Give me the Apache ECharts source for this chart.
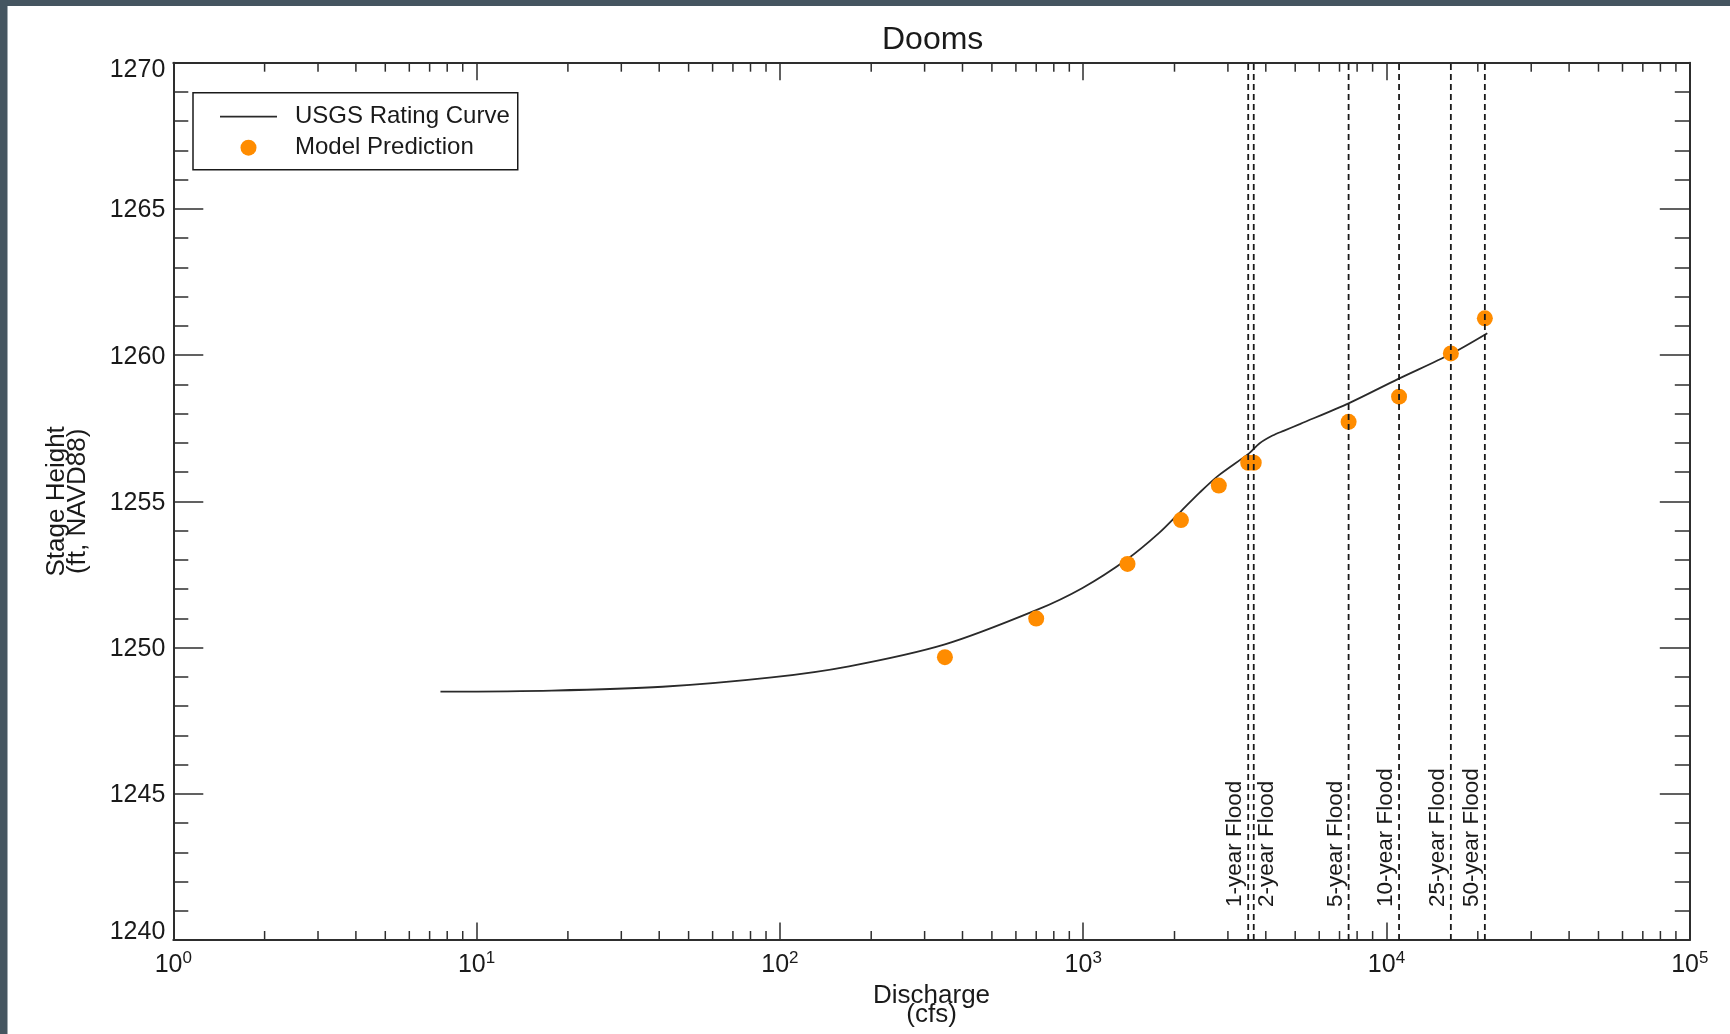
<!DOCTYPE html>
<html>
<head>
<meta charset="utf-8">
<title>Dooms</title>
<script src="https://cdn.jsdelivr.net/npm/echarts@6/dist/echarts.min.js"></script>
<style>
  html, body { margin: 0; padding: 0; background: #ffffff; }
  #chart { width: 1730px; height: 1034px; }
</style>
</head>
<body>
<div id="chart"></div>
<script>
// USGS rating curve: discharge (cfs) and stage (ft, NAVD88)
const ratingQ = [7.6, 17.7, 41, 94, 169, 350, 700, 995, 1400, 1780, 2100, 2415, 2790, 3530, 3810, 4210, 4600, 5200, 7530, 10900, 16300, 21500];
const ratingStage = [1248.49, 1248.53, 1248.66, 1248.98, 1249.36, 1250.11, 1251.28, 1252.04, 1253.03, 1253.92, 1254.66, 1255.29, 1255.88, 1256.65, 1256.98, 1257.25, 1257.42, 1257.65, 1258.36, 1259.18, 1260.04, 1260.75];

// Model predictions
const predQ = [350, 700, 1400, 2100, 2800, 3500, 3650, 7500, 11000, 16300, 21100];
const predStage = [1249.67, 1250.99, 1252.86, 1254.36, 1255.54, 1256.32, 1256.32, 1257.72, 1258.58, 1260.06, 1261.26];

// Flood recurrence discharges
const floodQ = [3500, 3650, 7500, 11000, 16300, 21100];
const floodNames = ['1-year Flood', '2-year Flood', '5-year Flood', '10-year Flood', '25-year Flood', '50-year Flood'];

// Axis ranges
const X_MIN = 1, X_MAX = 100000;
const Y_MIN = 1240, Y_MAX = 1270, Y_STEP = 5;

const FONT = '"Liberation Sans", Arial, sans-serif';
const INK = '#1a1a1a';
const FRAME = '#2e2e2e';
const CURVE = '#2a2a2a';

// which side of its dashed line each flood label sits on (-1 left, +1 right)
const floodLabelSide = [-1, 1, -1, -1, -1, -1];

// minor tick values of the log axis: 2..9 within every decade
const logMinorTicks = [];
for (let d = X_MIN; d < X_MAX; d *= 10) {
  for (let m = 2; m <= 9; m++) logMinorTicks.push([d * m, Y_MIN]);
}

const chart = echarts.init(document.getElementById('chart'), null, { renderer: 'canvas' });

const frameLine = { show: true, onZero: false, lineStyle: { color: FRAME, width: 2 } };

function logLabel(v) {
  const e = Math.round(Math.log10(v));
  return '{b|10}{s|' + e + '}';
}

function stageLabel(v) {
  if (v === Y_MAX) return '{hi|' + v + '}';
  if (v === Y_MIN) return '{lo|' + v + '}';
  return '{n|' + v + '}';
}

const option = {
  animation: false,
  backgroundColor: '#ffffff',
  graphic: [
    { type: 'rect', left: 0, top: 0, shape: { width: 1730, height: 6 }, style: { fill: '#455560' }, z: 100 },
    { type: 'rect', left: 0, top: 0, shape: { width: 7.5, height: 1034 }, style: { fill: '#455560' }, z: 100 }
  ],
  title: {
    text: 'Dooms',
    left: 877,
    top: 19.5,
    textStyle: { fontFamily: FONT, fontSize: 32, fontWeight: 'normal', color: INK }
  },
  grid: { left: 173.3, right: 40.2, top: 62.7, bottom: 94, containLabel: false },
  legend: {
    orient: 'vertical',
    left: 193,
    top: 92.7,
    padding: [12, 8, 10, 27],
    itemWidth: 57,
    itemHeight: 16,
    itemGap: 7,
    symbolKeepAspect: true,
    borderColor: INK,
    borderWidth: 1.5,
    borderRadius: 0,
    backgroundColor: '#ffffff',
    data: [
      { name: 'USGS Rating Curve', icon: 'path://M0,0h57v1.8h-57z' },
      { name: 'Model Prediction', icon: 'circle' }
    ],
    textStyle: { fontFamily: FONT, fontSize: 24, color: INK, padding: [0, 0, 0, 13] }
  },
  xAxis: [
    {
      type: 'log', logBase: 10, min: X_MIN, max: X_MAX, position: 'bottom',
      name: 'Discharge\n(cfs)', nameLocation: 'middle', nameGap: 42,
      nameTextStyle: { fontFamily: FONT, fontSize: 26, color: INK, lineHeight: 19 },
      axisLine: frameLine,
      axisTick: { show: true, inside: true, length: 17.5, lineStyle: { color: FRAME, width: 1.5 } },
      splitLine: { show: false },
      axisLabel: {
        margin: 10,
        formatter: logLabel,
        rich: {
          b: { fontFamily: FONT, fontSize: 25, color: INK, lineHeight: 30 },
          s: { fontFamily: FONT, fontSize: 17, color: INK, lineHeight: 17, verticalAlign: 'top' }
        }
      }
    },
    {
      type: 'log', logBase: 10, min: X_MIN, max: X_MAX, position: 'top',
      axisLine: frameLine,
      axisTick: { show: true, inside: true, length: 17.5, lineStyle: { color: FRAME, width: 1.5 } },
      axisLabel: { show: false },
      splitLine: { show: false }
    }
  ],
  yAxis: [
    {
      type: 'value', min: Y_MIN, max: Y_MAX, interval: Y_STEP, position: 'left',
      name: 'Stage Height\n(ft, NAVD88)', nameLocation: 'middle', nameGap: 85, nameRotate: 90,
      nameTextStyle: { fontFamily: FONT, fontSize: 26, color: INK, lineHeight: 21 },
      axisLine: frameLine,
      axisTick: { show: true, inside: true, length: 30, lineStyle: { color: FRAME, width: 1.5 } },
      minorTick: { show: true, splitNumber: 5, length: 15, lineStyle: { color: FRAME, width: 1.5 } },
      splitLine: { show: false },
      axisLabel: {
        margin: 8,
        formatter: stageLabel,
        rich: {
          n: { fontFamily: FONT, fontSize: 25, color: INK, padding: [3, 0, 0, 0] },
          hi: { fontFamily: FONT, fontSize: 25, color: INK, padding: [15, 0, 0, 0] },
          lo: { fontFamily: FONT, fontSize: 25, color: INK, padding: [0, 0, 15, 0] }
        }
      }
    },
    {
      type: 'value', min: Y_MIN, max: Y_MAX, interval: Y_STEP, position: 'right',
      axisLine: frameLine,
      axisTick: { show: true, inside: true, length: 30, lineStyle: { color: FRAME, width: 1.5 } },
      minorTick: { show: true, splitNumber: 5, length: 15, lineStyle: { color: FRAME, width: 1.5 } },
      splitLine: { show: false },
      axisLabel: { show: false }
    }
  ],
  series: [
    {
      name: 'USGS Rating Curve',
      type: 'line',
      xAxisIndex: 0, yAxisIndex: 0,
      data: ratingQ.map((q, i) => [q, ratingStage[i]]),
      symbol: 'none',
      smooth: 0.3,
      lineStyle: { color: CURVE, width: 1.8 },
      itemStyle: { color: CURVE },
      z: 2
    },
    {
      name: 'Model Prediction',
      type: 'scatter',
      xAxisIndex: 0, yAxisIndex: 0,
      data: predQ.map((q, i) => [q, predStage[i]]),
      symbol: 'circle',
      symbolSize: 16,
      itemStyle: { color: '#ff8c00', opacity: 1 },
      z: 3
    },
    {
      // log-axis minor ticks on the bottom and top frame
      name: 'logMinorTicks',
      type: 'custom',
      xAxisIndex: 0, yAxisIndex: 0,
      clip: false,
      silent: true,
      data: logMinorTicks,
      renderItem: function (params, api) {
        const v = api.value(0);
        const pb = api.coord([v, Y_MIN]);
        const pt = api.coord([v, Y_MAX]);
        const st = { stroke: FRAME, lineWidth: 1.5 };
        return {
          type: 'group',
          children: [
            { type: 'line', shape: { x1: pb[0], y1: pb[1], x2: pb[0], y2: pb[1] - 9 }, style: st },
            { type: 'line', shape: { x1: pt[0], y1: pt[1], x2: pt[0], y2: pt[1] + 9 }, style: st }
          ]
        };
      },
      z: 5
    },
    {
      // flood recurrence lines with rotated labels
      name: 'floods',
      type: 'custom',
      xAxisIndex: 0, yAxisIndex: 0,
      clip: false,
      silent: true,
      data: floodQ.map((q, i) => [q, i]),
      renderItem: function (params, api) {
        const q = api.value(0);
        const i = params.dataIndex;
        const pb = api.coord([q, Y_MIN]);
        const pt = api.coord([q, Y_MAX]);
        return {
          type: 'group',
          children: [
            {
              type: 'line',
              shape: { x1: pb[0], y1: pb[1], x2: pt[0], y2: pt[1] },
              style: { stroke: '#1a1a1a', lineWidth: 1.8, lineDash: [6, 4] }
            },
            {
              type: 'text',
              x: pb[0] + floodLabelSide[i] * 13,
              y: pb[1] - 33,
              rotation: Math.PI / 2,
              style: {
                text: floodNames[i],
                fontFamily: FONT,
                fontSize: 22.5,
                fill: INK,
                align: 'left',
                verticalAlign: 'middle'
              }
            }
          ]
        };
      },
      z: 6
    }
  ]
};

chart.setOption(option);
</script>
</body>
</html>
